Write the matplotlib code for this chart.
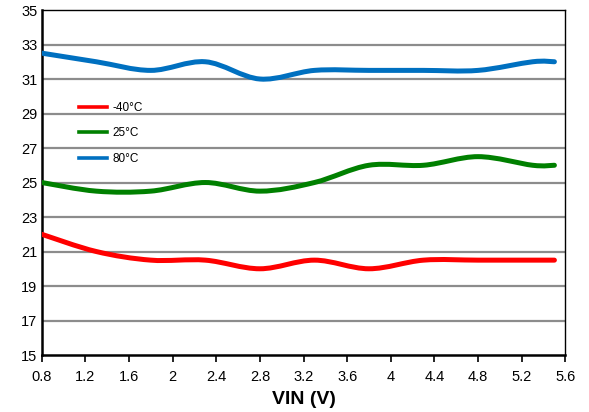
import numpy as np
import matplotlib.pyplot as plt
from matplotlib.path import Path
from matplotlib.patches import PathPatch
from matplotlib.lines import Line2D

plt.rcParams['font.family'] = ['Liberation Sans', 'DejaVu Sans']

# supply voltage (V)
vin = [0.8, 1.3, 1.8, 2.3, 2.8, 3.3, 3.8, 4.3, 4.8, 5.3, 5.5]
# readings per temperature
t_m40 = [22.0, 21.0, 20.5, 20.5, 20.0, 20.5, 20.0, 20.5, 20.5, 20.5, 20.5]
t_25 = [25.0, 24.5, 24.5, 25.0, 24.5, 25.0, 26.0, 26.0, 26.5, 26.0, 26.0]
t_80 = [32.5, 32.0, 31.5, 32.0, 31.0, 31.5, 31.5, 31.5, 31.5, 32.0, 32.0]
labels = ['-40\u00b0C', '25\u00b0C', '80\u00b0C']
colors = ['#ff0000', '#008000', '#0070c0']
yticks = [15, 17, 19, 21, 23, 25, 27, 29, 31, 33, 35]
xticks = [0.8, 1.2, 1.6, 2, 2.4, 2.8, 3.2, 3.6, 4, 4.4, 4.8, 5.2, 5.6]


def smooth_path(x, y):
    # catmull-rom -> cubic bezier, like a spreadsheet "smoothed line"
    p = np.column_stack([x, y]).astype(float)
    verts = [p[0]]
    codes = [Path.MOVETO]
    n = len(p)
    for i in range(n - 1):
        p0 = p[i - 1] if i > 0 else p[i]
        p3 = p[i + 2] if i + 2 < n else p[i + 1]
        c1 = p[i] + (p[i + 1] - p0) / 6.0
        c2 = p[i + 1] - (p3 - p[i]) / 6.0
        verts += [c1, c2, p[i + 1]]
        codes += [Path.CURVE4] * 3
    return Path(verts, codes)


fig = plt.figure(figsize=(5.89, 4.12), dpi=100)
ax = fig.add_axes([0.0708, 0.1383, 0.8890, 0.8374])

for yv in yticks[1:-1]:
    ax.axhline(yv, color='#8c8c8c', lw=1.6, zorder=1)

handles = []
for ys, c, lab in zip([t_m40, t_25, t_80], colors, labels):
    ax.add_patch(PathPatch(smooth_path(vin, ys), fill=False, edgecolor=c,
                           lw=3.6, capstyle='round', joinstyle='round', zorder=3))
    handles.append(Line2D([], [], color=c, lw=2.6, label=lab))

ax.set_xlim(0.8, 5.6)
ax.set_ylim(15, 35)
ax.set_xticks(xticks)
ax.set_xticklabels([f'{v:g}' for v in xticks])
ax.set_yticks(yticks)
ax.tick_params(axis='x', direction='out', length=5, width=1.2, labelsize=10.5, pad=6)
ax.tick_params(axis='y', length=0, labelsize=10.5, pad=3)
for s in ['left', 'bottom']:
    ax.spines[s].set_linewidth(1.8)
for s in ['top', 'right']:
    ax.spines[s].set_linewidth(1.0)

ax.set_xlabel('VIN (V)', fontsize=14, fontweight='bold', labelpad=5)

leg = ax.legend(handles=handles, loc='upper left', bbox_to_anchor=(0.05, 0.765),
                frameon=False, fontsize=8.5, handlelength=2.4, handletextpad=0.5,
                labelspacing=1.15)

fig.savefig('out.png', dpi=100)
